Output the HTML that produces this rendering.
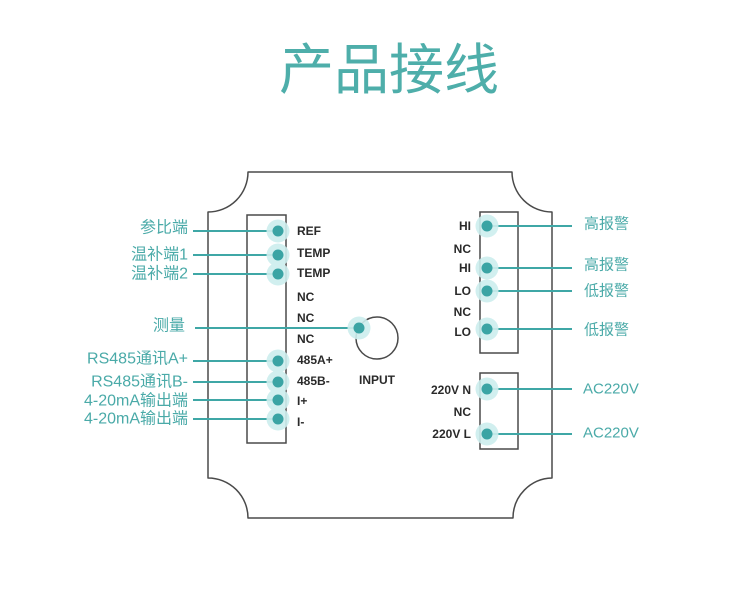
<!DOCTYPE html>
<html><head><meta charset="utf-8"><style>
html,body{margin:0;padding:0;background:#fff;}
svg{display:block;}
.t{font-family:"Liberation Sans","Noto Sans CJK SC",sans-serif;}
</style></head><body>
<svg width="750" height="594" viewBox="0 0 750 594" xmlns="http://www.w3.org/2000/svg">
<rect width="750" height="594" fill="#fff"/>
<text x="389" y="89" text-anchor="middle" font-family="'Noto Sans CJK SC',sans-serif" font-size="55" fill="#4eaeaa">产品接线</text>

<!-- body outline -->
<path d="M248 172 L512 172 A40 40 0 0 0 552 212 L552 478 A40 40 0 0 0 513 518 L248 518 A40 40 0 0 0 208 478 L208 212 A40 40 0 0 0 248 172 Z" fill="none" stroke="#4a4a4a" stroke-width="1.5" stroke-linejoin="round"/>

<!-- terminal blocks -->
<rect x="247" y="215" width="39" height="228" fill="none" stroke="#4a4a4a" stroke-width="1.5"/>
<rect x="480" y="212" width="38" height="141" fill="none" stroke="#4a4a4a" stroke-width="1.5"/>
<rect x="480" y="373" width="38" height="76" fill="none" stroke="#4a4a4a" stroke-width="1.5"/>

<!-- INPUT circle -->
<circle cx="377" cy="338" r="21" fill="none" stroke="#4a4a4a" stroke-width="1.5"/>

<!-- connector lines -->
<g stroke="#3fa7a6" stroke-width="2">
<line x1="193" y1="231" x2="278" y2="231"/>
<line x1="193" y1="255" x2="278" y2="255"/>
<line x1="193" y1="274" x2="278" y2="274"/>
<line x1="195" y1="328" x2="359" y2="328"/>
<line x1="193" y1="361" x2="278" y2="361"/>
<line x1="193" y1="382" x2="278" y2="382"/>
<line x1="193" y1="400" x2="278" y2="400"/>
<line x1="193" y1="419" x2="278" y2="419"/>
<line x1="487" y1="226" x2="572" y2="226"/>
<line x1="487" y1="268" x2="572" y2="268"/>
<line x1="487" y1="291" x2="572" y2="291"/>
<line x1="487" y1="329" x2="572" y2="329"/>
<line x1="487" y1="389" x2="572" y2="389"/>
<line x1="487" y1="434" x2="572" y2="434"/>
</g>

<!-- halos -->
<g fill="#cdeeee" opacity="0.9">
<circle cx="278" cy="231" r="11.5"/>
<circle cx="278" cy="255" r="11.5"/>
<circle cx="278" cy="274" r="11.5"/>
<circle cx="359" cy="328" r="11.5"/>
<circle cx="278" cy="361" r="11.5"/>
<circle cx="278" cy="382" r="11.5"/>
<circle cx="278" cy="400" r="11.5"/>
<circle cx="278" cy="419" r="11.5"/>
<circle cx="487" cy="226" r="11.5"/>
<circle cx="487" cy="268" r="11.5"/>
<circle cx="487" cy="291" r="11.5"/>
<circle cx="487" cy="329" r="11.5"/>
<circle cx="487" cy="389" r="11.5"/>
<circle cx="487" cy="434" r="11.5"/>
</g>
<!-- dots -->
<g fill="#3aa4a4">
<circle cx="278" cy="231" r="5.5"/>
<circle cx="278" cy="255" r="5.5"/>
<circle cx="278" cy="274" r="5.5"/>
<circle cx="359" cy="328" r="5.5"/>
<circle cx="278" cy="361" r="5.5"/>
<circle cx="278" cy="382" r="5.5"/>
<circle cx="278" cy="400" r="5.5"/>
<circle cx="278" cy="419" r="5.5"/>
<circle cx="487" cy="226" r="5.5"/>
<circle cx="487" cy="268" r="5.5"/>
<circle cx="487" cy="291" r="5.5"/>
<circle cx="487" cy="329" r="5.5"/>
<circle cx="487" cy="389" r="5.5"/>
<circle cx="487" cy="434" r="5.5"/>
</g>

<!-- terminal labels (left block) -->
<g class="t" font-size="12" font-weight="bold" fill="#2a2a2a" dominant-baseline="central">
<text x="297" y="231">REF</text>
<text x="297" y="253">TEMP</text>
<text x="297" y="273">TEMP</text>
<text x="297" y="297">NC</text>
<text x="297" y="318">NC</text>
<text x="297" y="339">NC</text>
<text x="297" y="360">485A+</text>
<text x="297" y="381">485B-</text>
<text x="297" y="401">I+</text>
<text x="297" y="422">I-</text>
<text x="359" y="380">INPUT</text>
</g>
<!-- terminal labels (right blocks) -->
<g class="t" font-size="12" font-weight="bold" fill="#2a2a2a" dominant-baseline="central" text-anchor="end">
<text x="471" y="226">HI</text>
<text x="471" y="249">NC</text>
<text x="471" y="268">HI</text>
<text x="471" y="291">LO</text>
<text x="471" y="312">NC</text>
<text x="471" y="332">LO</text>
<text x="471" y="390">220V N</text>
<text x="471" y="412">NC</text>
<text x="471" y="434">220V L</text>
</g>

<!-- left callout labels -->
<g class="t" font-size="16" fill="#4aaaa8" dominant-baseline="central" text-anchor="end">
<text x="188" y="228">参比端</text>
<text x="188" y="255">温补端1</text>
<text x="188" y="274">温补端2</text>
<text x="185" y="326">测量</text>
<text x="188" y="359">RS485通讯A+</text>
<text x="188" y="382">RS485通讯B-</text>
<text x="188" y="401">4-20mA输出端</text>
<text x="188" y="419">4-20mA输出端</text>
</g>
<!-- right callout labels -->
<g class="t" font-size="15" fill="#4aaaa8" dominant-baseline="central">
<text x="584" y="224">高报警</text>
<text x="584" y="265">高报警</text>
<text x="584" y="291">低报警</text>
<text x="584" y="330">低报警</text>
<text x="583" y="389">AC220V</text>
<text x="583" y="433">AC220V</text>
</g>
</svg>
</body></html>
